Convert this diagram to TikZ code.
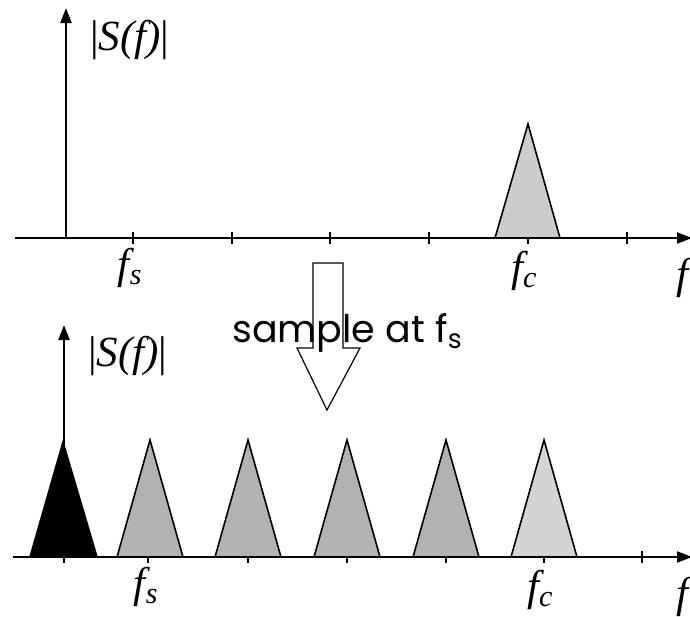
\documentclass[tikz,border=0pt]{standalone}
\usepackage{fontspec}
\setmainfont{Liberation Serif}
\newfontfamily\geofont{Poppins}
\usetikzlibrary{arrows.meta}
\begin{document}
\begin{tikzpicture}[x=1pt,y=-1pt,
  axis/.style={line width=2.2pt,-{Triangle[length=15pt,width=11pt]}},
  tickmark/.style={line width=1.3pt},
  spec/.style={draw=black,line width=1.6pt,line join=miter},
  lbl/.style={font=\fontsize{43}{45}\selectfont\itshape,inner sep=0pt},
  blockarrow/.style={draw=black,line width=1.2pt,fill=white}]
\useasboundingbox (0,0) rectangle (690,616);
% ---------- top plot ----------
\coordinate (t0) at (66,238);
\coordinate (tl) at (15,238);
\coordinate (tr) at (692,238);
\coordinate (tu) at (66,8);
\foreach \x in {133,232,330,429,528,627}
  \draw[tickmark] (\x,232) -- (\x,244);
\draw[spec,fill=gray!40] (495,238) -- (528,124) -- (560,238) -- cycle;
\draw[axis] (tl) -- (tr);
\draw[axis] (t0) -- (tu);
\node[lbl,anchor=west] (ts) at (90,40) {\upshape|\itshape S(f)\upshape|};
\node[lbl] (tfs) at (130,268) {f\textsubscript{s}};
\node[lbl] (tfc) at (524,271) {f\textsubscript{c}};
\node[lbl] (tf) at (682,278) {f};
% ---------- sample arrow ----------
\draw[blockarrow] (313,263) -- (343,263) -- (343,348) -- (360,348) -- (327,410)
  -- (297,348) -- (313,348) -- cycle;
\node[font=\geofont\fontsize{38}{40}\selectfont,inner sep=0pt,anchor=base west] (smp) at (232,342)
  {sample at f\textsubscript{s}};
% ---------- bottom plot ----------
\coordinate (b0) at (64,557);
\coordinate (bl) at (13,557);
\coordinate (br) at (692,557);
\coordinate (bu) at (64,325);
\foreach \x in {64,148,248,347,446,544,642}
  \draw[tickmark] (\x,551) -- (\x,563);
\draw[spec,fill=black] (30,557) -- (63,442) -- (97,557) -- cycle;
\foreach \c in {150,248,347,446}
  \draw[spec,fill=gray!60] (\c-33,557) -- (\c,440) -- (\c+33,557) -- cycle;
\draw[spec,fill=gray!34] (511,557) -- (544,440) -- (577,557) -- cycle;
\draw[axis] (bl) -- (br);
\draw[axis] (b0) -- (bu);
\node[lbl,anchor=west] (bs) at (88,356) {\upshape|\itshape S(f)\upshape|};
\node[lbl] (bfs) at (146,587) {f\textsubscript{s}};
\node[lbl] (bfc) at (540,590) {f\textsubscript{c}};
\node[lbl] (bf) at (682,597) {f};
\end{tikzpicture}
\end{document}
